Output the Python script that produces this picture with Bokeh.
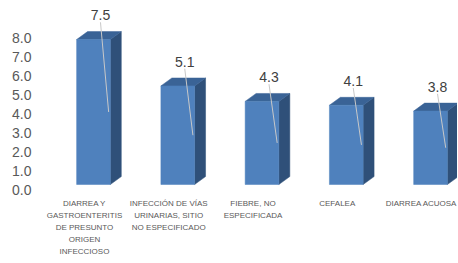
from bokeh.plotting import figure
from bokeh.models import Range1d, FixedTicker, NumeralTickFormatter, ColumnDataSource
from bokeh.core.properties import value
from bokeh.embed import file_html
from bokeh.resources import INLINE

categories = [
    "DIARREA Y\nGASTROENTERITIS\nDE PRESUNTO\nORIGEN\nINFECCIOSO",
    "INFECCIÓN DE VÍAS\nURINARIAS, SITIO\nNO ESPECIFICADO",
    "FIEBRE, NO\nESPECIFICADA",
    "CEFALEA",
    "DIARREA ACUOSA",
]
values = [7.5, 5.1, 4.3, 4.1, 3.8]
y_ticks = [0, 1, 2, 3, 4, 5, 6, 7, 8]

p = figure(width=457, height=262, output_backend="svg", toolbar_location=None,
           x_range=Range1d(-0.593, 4.427), y_range=Range1d(-3.772, 9.953),
           min_border_left=34, min_border_right=0, min_border_top=0, min_border_bottom=0)
p.extra_y_ranges = {"bars": Range1d(-4.035, 9.519), "cats": Range1d(-3.772, 9.953)}
p.outline_line_color = None
p.background_fill_color = "white"
p.border_fill_color = "white"
p.xgrid.visible = False
p.ygrid.visible = False
p.xaxis.visible = False

# y axis
p.yaxis.ticker = FixedTicker(ticks=y_ticks)
p.yaxis.formatter = NumeralTickFormatter(format="0.0")
p.yaxis.axis_line_color = None
p.yaxis.major_tick_line_color = None
p.yaxis.minor_tick_line_color = None
p.yaxis.major_tick_out = 0
p.yaxis.major_tick_in = 0
p.yaxis.minor_tick_out = 0
p.yaxis.major_label_text_font = "Liberation Sans"
p.yaxis.major_label_text_font_size = "14px"
p.yaxis.major_label_text_color = "#595959"
p.yaxis.major_label_standoff = 3

# 3D bars built from data
shift = 0.107
half_w = 0.20
dx = 0.13
dy = 0.41
idx = list(range(len(values)))
front_x0 = [i + shift - half_w for i in idx]
front_x1 = [i + shift + half_w for i in idx]

src = ColumnDataSource(dict(x0=front_x0, x1=front_x1, top=values,
                            bottom=[0] * len(values)))

side_xs = [[x1, x1, x1 + dx, x1 + dx] for x1 in front_x1]
side_ys = [[0, v, v + dy, dy] for v in values]
top_xs = [[x0, x1, x1 + dx, x0 + dx] for x0, x1 in zip(front_x0, front_x1)]
top_ys = [[v, v, v + dy, v + dy] for v in values]

p.patches(side_xs, side_ys, fill_color="#2F5079", line_color="#2F5079",
          line_width=0.5, y_range_name="bars")
p.patches(top_xs, top_ys, fill_color="#3A6396", line_color="#3A6396",
          line_width=0.5, y_range_name="bars")
p.quad(left="x0", right="x1", top="top", bottom="bottom", source=src,
       fill_color="#4F81BD", line_color="#4F81BD", line_width=0.5,
       y_range_name="bars")

# leader lines and value labels
lab_dx = 0.19
lab_dy = 1.25
p.segment(x0=[i + lab_dx for i in idx],
          y0=[v + lab_dy - 0.36 for v in values],
          x1=[x1 - 0.02 for x1 in front_x1],
          y1=[v / 2 for v in values],
          line_color="#C8C8C8", line_width=1, y_range_name="bars")
p.text(x=[i + lab_dx for i in idx],
       y=[v + lab_dy for v in values],
       text=[f"{v:.1f}" for v in values],
       text_font=value("Liberation Sans"), text_font_size="14px",
       text_color="#404040", text_align="center", text_baseline="middle",
       y_range_name="bars")

# category labels under the bars
p.text(x=idx, y=[-0.46] * len(idx), text=categories,
       text_font=value("Liberation Sans"), text_font_size="8px",
       text_color="#595959", text_align="center", text_baseline="top",
       text_line_height=1.33, y_range_name="cats")

open("out.html", "w").write(file_html(p, INLINE))
